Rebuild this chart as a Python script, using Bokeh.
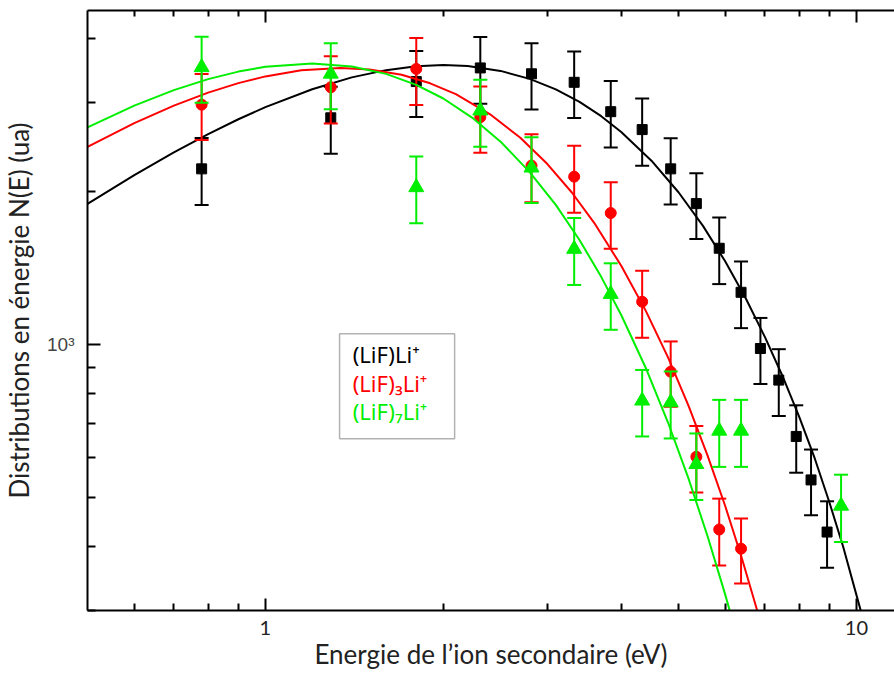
from bokeh.plotting import figure
from bokeh.models import FixedTicker, LogAxis, Label, BoxAnnotation, ColumnDataSource
from bokeh.embed import file_html
from bokeh.resources import INLINE

# ---------------- data ----------------
E_black = [0.78, 1.29, 1.80, 2.31, 2.82, 3.33, 3.84, 4.34, 4.85, 5.36, 5.86, 6.38, 6.88, 7.39, 7.91, 8.38, 8.92]
N_black = [2218, 2795, 3294, 3504, 3412, 3283, 2874, 2650, 2218, 1895, 1548, 1268, 983, 852, 660, 542, 428]
err_black = [334, 421, 490, 526, 508, 490, 430, 400, 330, 280, 232, 190, 146, 128, 100, 80, 64]

E_red = [0.78, 1.29, 1.80, 2.31, 2.82, 3.33, 3.84, 4.34, 4.85, 5.36, 5.86, 6.38]
N_red = [2967, 3210, 3488, 2803, 2251, 2141, 1816, 1215, 885, 602, 433, 397]
err_red = [440, 485, 525, 418, 345, 322, 272, 183, 130, 90, 65, 58]

E_green = [0.78, 1.29, 1.80, 2.31, 2.82, 3.33, 3.84, 4.34, 4.85, 5.36, 5.86, 6.38, 9.42]
N_green = [3514, 3412, 2040, 2887, 2230, 1543, 1258, 776, 770, 582, 677, 677, 482]
err_green = [520, 505, 307, 435, 330, 232, 188, 116, 116, 87, 102, 102, 73]

# fitted curves
Efit_black = [0.5, 0.6, 0.7, 0.8, 0.9, 1.0, 1.2, 1.4, 1.6, 1.8, 2.0, 2.2, 2.5, 2.8, 3.1, 3.4, 3.7,
              4.0, 4.5, 5.0, 5.5, 6.0, 6.5, 7.0, 7.5, 8.0, 8.5, 9.0, 9.5, 10.0, 10.5]
Nfit_black = [1893, 2157, 2391, 2597, 2777, 2933, 3181, 3357, 3469, 3531, 3550, 3534, 3457, 3334, 3180, 3004, 2816,
              2622, 2302, 1995, 1713, 1458, 1233, 1036, 867, 722, 598, 490, 400, 322, 262]

Efit_red = [0.5, 0.6, 0.7, 0.8, 0.9, 1.0, 1.15, 1.34, 1.5, 1.7, 1.9, 2.1, 2.4, 2.7, 3.0, 3.3, 3.6,
            4.0, 4.4, 4.8, 5.2, 5.6, 6.0, 6.4, 6.8, 7.0]
Nfit_red = [2451, 2729, 2954, 3133, 3271, 3372, 3466, 3504, 3480, 3396, 3268, 3111, 2840, 2553, 2267, 1993, 1737,
            1430, 1167, 944, 758, 605, 481, 380, 299, 265]

Efit_green = [0.5, 0.6, 0.7, 0.8, 0.9, 1.0, 1.2, 1.4, 1.6, 1.8, 2.0, 2.25, 2.5, 2.8, 3.1, 3.4, 3.7,
              4.0, 4.4, 4.8, 5.2, 5.6, 6.0, 6.3]
Nfit_green = [2676, 2953, 3169, 3331, 3446, 3522, 3575, 3528, 3411, 3245, 3051, 2784, 2509, 2186, 1884, 1607, 1360,
              1144, 901, 703, 545, 420, 322, 263]

x_ticks = [1, 10]
x_tick_labels = ["1", "10"]
x_minor = [0.6, 0.7, 0.8, 0.9, 2, 3, 4, 5, 6, 7, 8, 9]
y_ticks = [1000]
y_tick_labels = ["10³"]
y_minor = [300, 400, 500, 600, 700, 800, 900, 2000, 3000, 4000]

legend_texts = ["(LiF)Li⁺", "(LiF)₃Li⁺", "(LiF)₇Li⁺"]

BLACK = "#000000"
RED = "#ff0000"
GREEN = "#00ee00"

# ---------------- figure ----------------
p = figure(x_axis_type="log", y_axis_type="log",
           x_range=(0.5, 11.6), y_range=(300, 4545),
           frame_width=807, frame_height=600,
           min_border_left=87, min_border_right=0, min_border_top=10, min_border_bottom=0,
           output_backend="svg", toolbar_location=None)
p.outline_line_color = None
p.xgrid.visible = False
p.ygrid.visible = False
p.background_fill_color = "white"
p.border_fill_color = "white"

def style_axis(ax, major_in, minor_in):
    ax.axis_line_width = 2
    ax.axis_line_color = "black"
    ax.major_tick_line_width = 2
    ax.minor_tick_line_width = 2
    ax.major_tick_out = 0
    ax.minor_tick_out = 0
    ax.major_tick_in = major_in
    ax.minor_tick_in = minor_in

xa = p.xaxis[0]
ya = p.yaxis[0]
xa.ticker = FixedTicker(ticks=x_ticks, minor_ticks=x_minor)
ya.ticker = FixedTicker(ticks=y_ticks, minor_ticks=y_minor)
xa.major_label_overrides = dict(zip(x_ticks, x_tick_labels))
ya.major_label_overrides = dict(zip(y_ticks, y_tick_labels))
style_axis(xa, 12, 7)
style_axis(ya, 13, 8)

xa.axis_label = "Energie de l’ion secondaire (eV)"
ya.axis_label = "Distributions en énergie N(E) (ua)"
for ax in (xa, ya):
    ax.axis_label_text_font = "Lato"
    ax.axis_label_text_font_style = "normal"
    ax.axis_label_text_color = "#222222"
    ax.axis_label_text_font_size = "26px"
xa.major_label_text_font = "Lato"
xa.major_label_text_font_size = "20px"
xa.major_label_text_color = "#222222"
xa.major_label_standoff = 10
xa.axis_label_standoff = 0
ya.major_label_text_font = "Liberation Sans"
ya.major_label_text_font_size = "19px"
ya.major_label_standoff = 13
ya.axis_label_standoff = 9

top = LogAxis(ticker=FixedTicker(ticks=x_ticks, minor_ticks=x_minor),
              major_label_overrides={1: "", 10: ""},
              major_label_text_font_size="1px", major_label_standoff=0)
style_axis(top, 12, 6)
p.add_layout(top, "above")

# ---------------- series ----------------
def add_series(E, N, err, color, marker, size):
    src = ColumnDataSource(dict(x=E, y=N,
                                lo=[n - e for n, e in zip(N, err)],
                                hi=[n + e for n, e in zip(N, err)]))
    p.segment(x0="x", y0="lo", x1="x", y1="hi", source=src, line_color=color, line_width=2)
    p.scatter(x="x", y="lo", source=src, marker="dash", size=14, line_color=color, line_width=2)
    p.scatter(x="x", y="hi", source=src, marker="dash", size=14, line_color=color, line_width=2)
    p.scatter(x="x", y="y", source=src, marker=marker, size=size, fill_color=color, line_color=color)

p.line(Efit_black, Nfit_black, line_color=BLACK, line_width=2)
add_series(E_black, N_black, err_black, BLACK, "square", 10)
p.line(Efit_red, Nfit_red, line_color=RED, line_width=2)
add_series(E_red, N_red, err_red, RED, "circle", 11)
p.line(Efit_green, Nfit_green, line_color=GREEN, line_width=2)
add_series(E_green, N_green, err_green, GREEN, "triangle", 15)

# ---------------- legend box ----------------
p.add_layout(BoxAnnotation(left=1.335, right=2.09, bottom=653, top=1051,
                           fill_color="white", fill_alpha=1.0,
                           line_color="black", line_width=1.5, level="annotation"))
for txt, col, yy in zip(legend_texts, [BLACK, RED, GREEN], [960, 842, 741]):
    p.add_layout(Label(x=1.405, y=yy, text=txt, text_color=col, text_font="Noto Sans",
                       text_font_size="22px", text_baseline="middle", text_align="left"))

open("out.html", "w").write(file_html(p, INLINE))
